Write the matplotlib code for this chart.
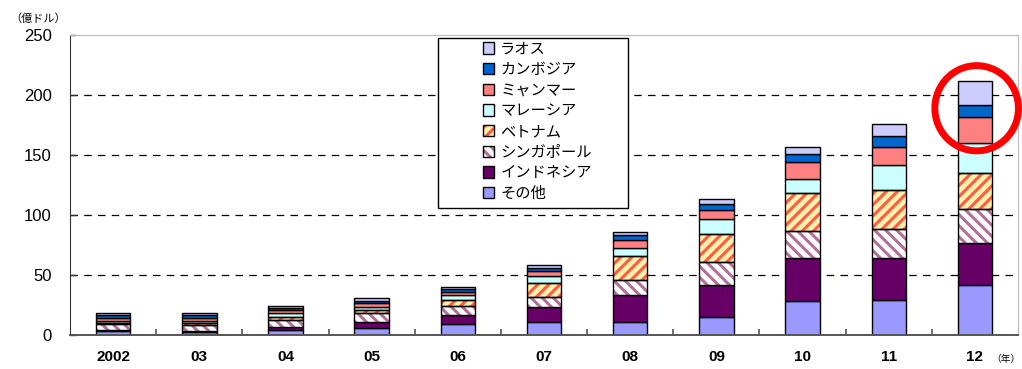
import matplotlib
matplotlib.use("Agg")
import matplotlib.pyplot as plt
import numpy as np
from matplotlib.patches import Rectangle, Ellipse, Patch

plt.rcParams['font.family'] = ['Liberation Sans', 'Noto Sans CJK JP', 'DejaVu Sans']
plt.rcParams['hatch.linewidth'] = 2.2

# 年次ラベル
years = ['2002', '03', '04', '05', '06', '07', '08', '09', '10', '11', '12']

# 国別の値（億ドル）、積み上げ順
sonota    = [3.5, 2.5, 4.0, 5.5, 9.0, 11.0, 11.0, 15.0, 28.0, 29.0, 42.0]
indonesia = [1.0, 1.0, 2.5, 5.0, 7.5, 12.0, 22.0, 27.0, 36.0, 35.0, 35.0]
singapore = [4.5, 5.0, 6.0, 8.0, 8.0, 8.5, 12.5, 19.0, 22.5, 24.5, 28.0]
vietnam   = [1.0, 1.5, 2.5, 2.5, 4.5, 12.0, 20.0, 23.5, 31.5, 32.0, 30.0]
malaysia  = [1.5, 1.5, 3.0, 2.0, 4.0, 5.5, 7.0, 12.0, 12.0, 21.0, 25.0]
myanmar   = [3.0, 3.0, 3.0, 3.5, 3.0, 4.0, 6.5, 8.0, 14.0, 15.0, 21.5]
cambodia  = [2.0, 2.0, 1.5, 1.5, 2.0, 2.5, 4.0, 5.0, 6.5, 9.5, 10.5]
laos      = [1.5, 2.0, 2.0, 2.5, 2.0, 2.5, 2.5, 4.0, 6.5, 10.0, 20.0]

# (名前, 値, 塗り, ハッチ, ハッチ色)
series = [
    ('その他',       sonota,    '#9999FF', None,  None),
    ('インドネシア', indonesia, '#660066', None,  None),
    ('シンガポール', singapore, '#FFFFFF', '\\\\\\', '#B07098'),
    ('ベトナム',     vietnam,   '#FFF2A8', '///', '#FF5A4A'),
    ('マレーシア',   malaysia,  '#CCFFFF', None,  None),
    ('ミャンマー',   myanmar,   '#FF8080', None,  None),
    ('カンボジア',   cambodia,  '#0066CC', None,  None),
    ('ラオス',       laos,      '#CCCCFF', None,  None),
]

fig = plt.figure(figsize=(10.22, 3.69), dpi=100)
ax = fig.add_axes([0.0685, 0.092, 0.9276, 0.813])

x = np.arange(len(years))
w = 0.40
bottom = np.zeros(len(years))
for name, vals, fc, hatch, hc in series:
    vals = np.array(vals)
    if hatch:
        ax.bar(x, vals, w, bottom=bottom, color=fc, edgecolor=hc,
               hatch=hatch, linewidth=0, zorder=2)
        ax.bar(x, vals, w, bottom=bottom, facecolor='none',
               edgecolor='black', linewidth=1.0, zorder=3)
    else:
        ax.bar(x, vals, w, bottom=bottom, color=fc,
               edgecolor='black', linewidth=1.0, zorder=2)
    bottom += vals

ax.set_xlim(-0.5, len(years) - 0.5)
ax.set_ylim(0, 250)
ax.set_yticks([0, 50, 100, 150, 200, 250])
ax.set_xticks(x)
ax.set_xticklabels(years, fontweight='bold')
ax.set_xticks(x[:-1] + 0.5, minor=True)
ax.tick_params(axis='x', which='major', length=0, pad=11, labelsize=11)
ax.tick_params(axis='x', which='minor', direction='in', length=4,
               width=1.2, color='#555555')
ax.tick_params(axis='y', direction='in', length=4, width=1.0,
               color='#333333', pad=13, labelsize=12)

for yv in [50, 100, 150, 200]:
    ax.axhline(yv, color='black', lw=0.9, ls=(0, (6, 5)), zorder=1)

ax.spines['left'].set_color('#333333')
ax.spines['bottom'].set_color('#555555')
ax.spines['bottom'].set_linewidth(1.4)
ax.spines['top'].set_color('#BBBBBB')
ax.spines['right'].set_color('#BBBBBB')

# 凡例（枠は別に描く）
ax.add_patch(Rectangle((0.388, 0.423), 0.201, 0.567, transform=ax.transAxes,
                       facecolor='white', edgecolor='black', lw=1.0, zorder=4))
handles = []
for name, vals, fc, hatch, hc in reversed(series):
    if hatch:
        handles.append((Patch(facecolor=fc, edgecolor=hc, hatch=hatch, linewidth=0),
                        Patch(facecolor='none', edgecolor='black', linewidth=1.0)))
    else:
        handles.append(Patch(facecolor=fc, edgecolor='black', linewidth=1.0))
labels = [s[0] for s in reversed(series)]
leg = ax.legend(handles, labels, loc='upper left', bbox_to_anchor=(0.424, 1.018),
                frameon=False, handlelength=0.75, handleheight=0.75,
                handletextpad=0.4, labelspacing=0.24, borderpad=0.2,
                prop={'family': ['Noto Sans CJK JP', 'DejaVu Sans'], 'size': 11})
leg.set_zorder(5)

# 2012年の上部を囲む赤丸
ax.add_patch(Ellipse((10.02, 189), 0.97, 71, facecolor='none',
                     edgecolor='#FF0000', lw=5, zorder=6, clip_on=False))

fig.text(0.010, 0.950, '（億ドル）', fontsize=8,
         family=['Noto Sans CJK JP', 'DejaVu Sans'], ha='left', va='center')
fig.text(0.999, 0.028, '（年）', fontsize=7,
         family=['Noto Sans CJK JP', 'DejaVu Sans'], ha='right', va='center')

fig.savefig('out.png', dpi=100)
